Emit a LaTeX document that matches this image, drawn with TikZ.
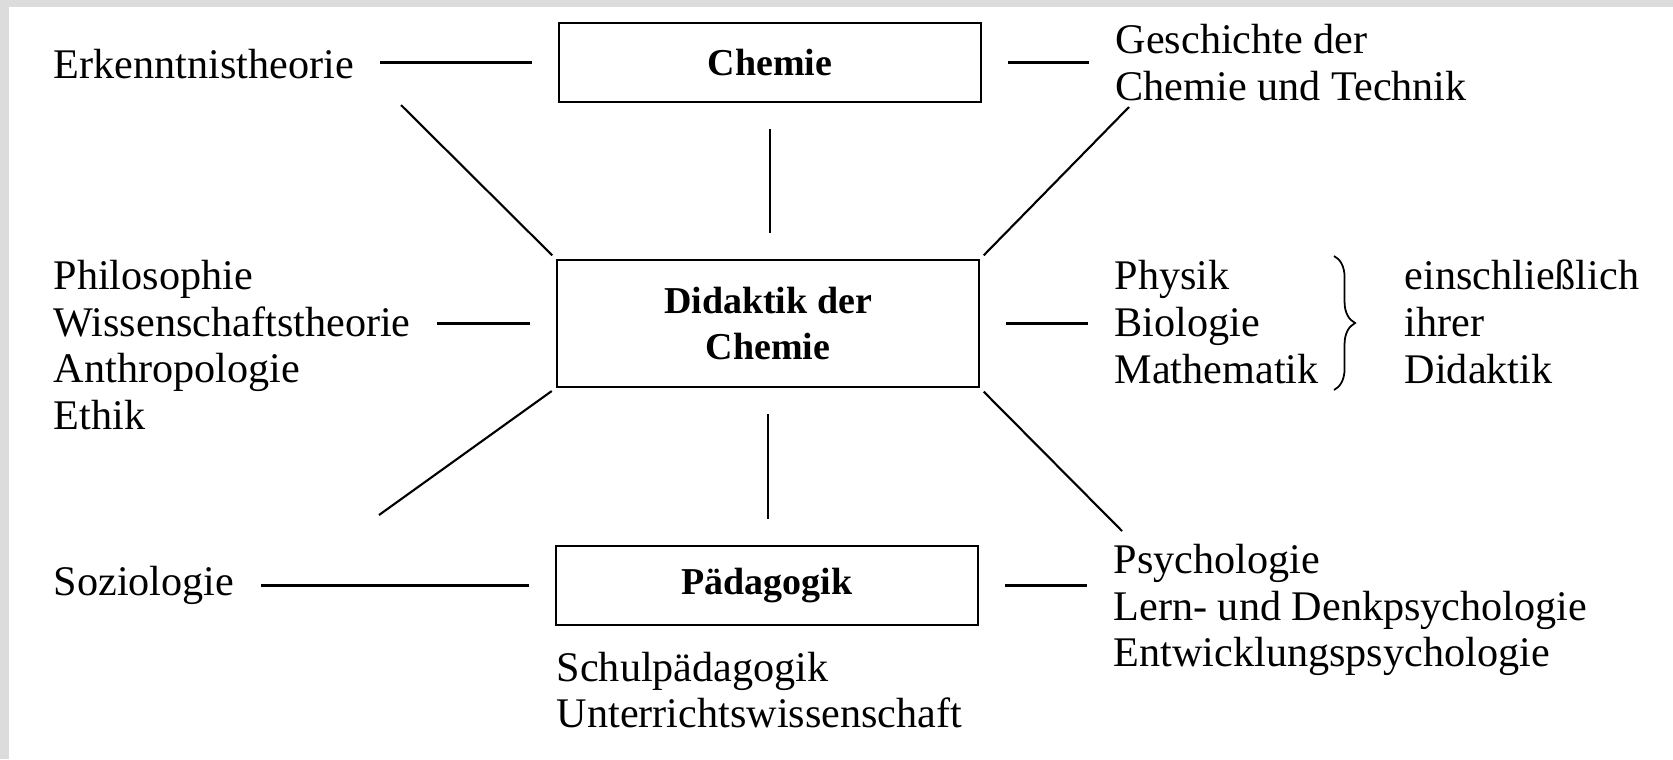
\documentclass[tikz,border=0pt]{standalone}
\usepackage{fontspec}
\setmainfont{Liberation Serif}
\usetikzlibrary{positioning, decorations.pathreplacing}

\definecolor{scangray}{RGB}{220,220,220}

\tikzset{
  fach/.style={draw, line width=0.6pt, minimum width=4.22cm, inner sep=0pt,
    font=\fontsize{10.8}{13}\selectfont\bfseries, align=center},
  gebiet/.style={inner sep=0pt, anchor=west, align=left,
    font=\fontsize{12}{13.3}\selectfont},
  verbindung/.style={line width=0.6pt, shorten <=0.26cm, shorten >=0.26cm},
  strahl/.style={line width=0.6pt, shorten <=0.05cm},
}

\begin{document}
\begin{tikzpicture}[x=0.01cm, y=-0.01cm]
  \useasboundingbox (0,0) rectangle (1673,759);
  % scan frame
  \fill[scangray] (0,0) rectangle (1673,7);
  \fill[scangray] (0,0) rectangle (9,759);

  % central boxes
  \node[fach, minimum height=0.79cm] (chem) at (770,62.5) {Chemie};
  \node[fach, minimum height=1.27cm] (did) at (768,323.5) {Didaktik der\\Chemie};
  \node[fach, minimum height=0.79cm] (pad) at (767,585.5) {Pädagogik};

  % left side
  \node[gebiet] (erk) at (53,64) {Erkenntnistheorie};
  \node[gebiet] (phil) at (53,345) {Philosophie\\Wissenschaftstheorie\\Anthropologie\\Ethik};
  \node[gebiet] (soz) at (53,585) {Soziologie};

  % right side
  \node[gebiet] (gesch) at (1115,62.5) {Geschichte der\\Chemie und Technik};
  \node[gebiet] (phys) at (1114,322) {Physik\\Biologie\\Mathematik};
  \node[gebiet] (ihrer) at (1404,322) {einschließlich\\ihrer\\Didaktik};
  \node[gebiet] (psy) at (1113,610) {Psychologie\\Lern- und Denkpsychologie\\Entwicklungspsychologie};

  % below
  \node[gebiet] (schul) at (556,690) {Schulpädagogik\\Unterrichtswissenschaft};

  % brace
  \draw[decorate, decoration={brace, amplitude=6pt}, line width=0.5pt] (1334,256) -- (1334,390);

  % vertical links
  \draw[verbindung] (chem.south) -- (chem.south |- did.north);
  \draw[verbindung] (did.south) -- (did.south |- pad.north);

  % horizontal links
  \draw[verbindung] (chem.west) -- (chem.west -| erk.east);
  \draw[verbindung] (chem.east) -- (chem.east -| gesch.west);
  \draw[verbindung] (did.west) -- (did.west -| phil.east);
  \draw[verbindung] (did.east) -- (did.east -| phys.west);
  \draw[verbindung] (pad.west) -- (pad.west -| soz.east);
  \draw[verbindung] (pad.east) -- (pad.east -| psy.west);

  % diagonals
  \coordinate (olinks) at (401,105);
  \coordinate (orechts) at (1129,107);
  \coordinate (ulinks) at (379,515);
  \coordinate (urechts) at (1122,531);
  \draw[strahl] (did.north west) -- (olinks);
  \draw[strahl] (did.north east) -- (orechts);
  \draw[strahl] (did.south west) -- (ulinks);
  \draw[strahl] (did.south east) -- (urechts);
\end{tikzpicture}
\end{document}
